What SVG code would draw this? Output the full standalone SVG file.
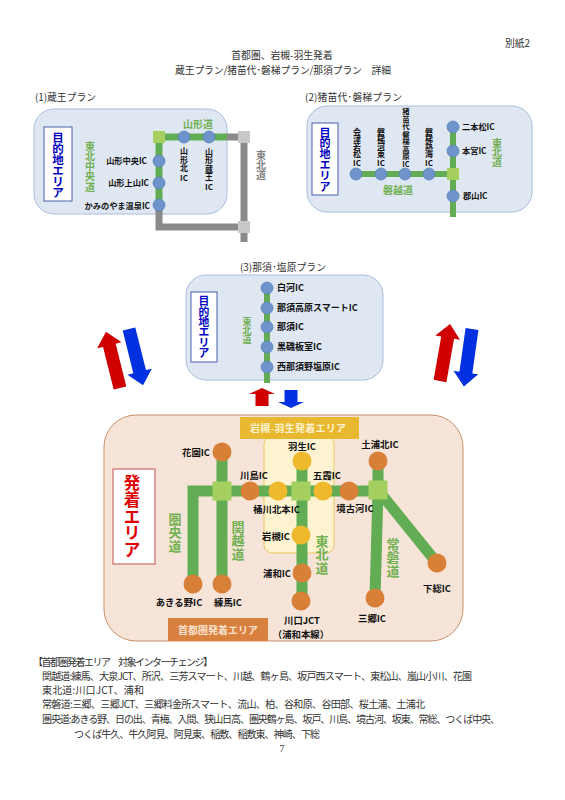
<svg xmlns="http://www.w3.org/2000/svg" width="565" height="800" viewBox="0 0 565 800">
<style>
text{font-family:"Noto Sans CJK JP","Liberation Sans",sans-serif;fill:#222}
.t{font-size:9.8px;fill:#333}
.f{font-size:10px;fill:#333}
.ic{font-size:8.2px;font-weight:700;fill:#111}
.ic3{font-size:9px;font-weight:700;fill:#111}
.ic4{font-size:9.4px;font-weight:700;fill:#111}
.m{text-anchor:middle}
.e{text-anchor:end}
.vs{font-size:8px;font-weight:700;fill:#111;text-anchor:middle}
.g{font-weight:700;fill:#70b050;text-anchor:middle}
.b{font-weight:700;fill:#0000c0;text-anchor:middle}
.panel{fill:#dfe7f3;stroke:#a9bfdc;stroke-width:1}
.box{fill:#fff;stroke:#4a5fb0;stroke-width:1}
.gl{stroke:#62ad53;fill:none}
.gr{stroke:#8a8a8a;fill:none}
.bc{fill:#6f94cc;stroke:#5b83b5;stroke-width:.8}
.oc{fill:#d98038}
.yc{fill:#efb92e}
.sq{fill:#a5cf5f}
.gs{fill:#c8c8c8}
.red{fill:#d00000}
.blue{fill:#0030e0}
</style>
<defs>
<polygon id="big" points="-6.5,0 6.5,0 6.5,-44 12.5,-44 0,-58 -12.5,-44 -6.5,-44"/>
</defs>
<rect width="565" height="800" fill="#fff"/>

<g id="header">
<text class="t" x="505" y="47">別紙2</text>
<text class="t m" x="282" y="59">首都圏、岩槻-羽生発着</text>
<text class="t" x="175" y="74" textLength="216">蔵王プラン/猪苗代･磐梯プラン/那須プラン　詳細</text>
<text class="t" x="35" y="101" textLength="61">(1)蔵王プラン</text>
<text class="t" x="305" y="101" textLength="97">(2)猪苗代･磐梯プラン</text>
<text class="t" x="240" y="271" textLength="86">(3)那須･塩原プラン</text>
</g>

<g id="panels">
<rect id="panel-1" class="panel" x="34" y="109" width="193" height="105" rx="20"/>
<rect id="panel-2" class="panel" x="307" y="106" width="225" height="106" rx="20"/>
<rect id="panel-3" class="panel" x="186" y="275" width="197" height="105" rx="20"/>
<rect id="panel-4" x="104" y="415" width="359" height="226" rx="32" fill="#f6e4d8" stroke="#c9916a" stroke-width="1"/>
<rect id="area-yellow" x="264" y="436" width="70" height="117" rx="8" fill="#fdf3d0" stroke="#edc860" stroke-width="1"/>
</g>

<g id="connectors">
<path class="gr" stroke-width="7" d="M159 205V227H244M227 137H244M244 137V242"/>
<path class="gl" stroke-width="7" d="M159 205V137H227"/>
<path class="gl" stroke-width="6" d="M356 174H453M453 127V217"/>
<path class="gl" stroke-width="6" d="M267 288V383"/>
<path class="gl" stroke-width="11" d="M193 584V491H378M222 452V584M302 461V601M378 461V490L375 598M378 490L437 563"/>
</g>

<g id="arrows">
<use href="#big" class="red" transform="translate(120 388) rotate(-14)"/>
<use href="#big" class="blue" transform="translate(129 329) rotate(166)"/>
<use href="#big" class="red" transform="translate(440 381) rotate(10)"/>
<use href="#big" class="blue" transform="translate(472 329) rotate(188)"/>
<polygon class="red" points="262,388 275,394 268.500,394 268.500,406 255.500,406 255.500,394 249,394"/>
<polygon class="blue" points="284.500,390 297.500,390 297.500,402 304,402 291,408 278,402 284.500,402"/>
</g>

<g id="junctions">
<rect class="sq" x="153" y="131" width="12" height="12"/>
<rect class="gs" x="238" y="131" width="12" height="12"/>
<rect class="gs" x="238" y="221" width="12" height="12"/>
<rect class="sq" x="447" y="168" width="12" height="12"/>
<rect class="sq" x="212.500" y="481.500" width="19" height="19"/>
<rect class="sq" x="291.500" y="481.500" width="19" height="19"/>
<rect class="sq" x="368.500" y="480.500" width="19" height="19"/>
</g>

<g id="labels-area-1">
<rect class="box" x="44" y="127" width="28" height="74"/>
<text class="b" style="font-size:11.500px"><tspan x="58" y="142">目</tspan><tspan x="58" y="153">的</tspan><tspan x="58" y="164">地</tspan><tspan x="58" y="175">エ</tspan><tspan x="58" y="186">リ</tspan><tspan x="58" y="197">ア</tspan></text>
<text class="g" style="font-size:10px"><tspan x="90" y="150">東</tspan><tspan x="90" y="160">北</tspan><tspan x="90" y="170">中</tspan><tspan x="90" y="180">央</tspan><tspan x="90" y="190.500">道</tspan></text>
<text class="g" x="198" y="128" style="font-size:10px">山形道</text>
<text class="m" style="font-size:10px;font-weight:700;fill:#808080"><tspan x="261" y="159">東</tspan><tspan x="261" y="169">北</tspan><tspan x="261" y="179">道</tspan></text>
</g>
<g id="ic-yamagata-kita"><circle class="bc" cx="184" cy="137" r="6"/><text class="vs"><tspan x="184" y="154">山</tspan><tspan x="184" y="162.500">形</tspan><tspan x="184" y="171">北</tspan><tspan x="184" y="181">IC</tspan></text></g>
<g id="ic-yamagata-zao"><circle class="bc" cx="209" cy="137" r="6"/><text class="vs"><tspan x="209" y="155">山</tspan><tspan x="209" y="163">形</tspan><tspan x="209" y="171.500">蔵</tspan><tspan x="209" y="180">王</tspan><tspan x="209" y="190">IC</tspan></text></g>
<g id="ic-yamagata-chuo"><circle class="bc" cx="159" cy="161" r="6"/><text class="ic e" x="147" y="164">山形中央IC</text></g>
<g id="ic-kaminoyama"><circle class="bc" cx="159" cy="183" r="6"/><text class="ic e" x="149" y="186">山形上山IC</text></g>
<g id="ic-onsen"><circle class="bc" cx="159" cy="205" r="6"/><text class="ic e" x="150" y="209">かみのやま温泉IC</text></g>

<g id="labels-area-2">
<rect class="box" x="312" y="123" width="26" height="72"/>
<text class="b" style="font-size:11px"><tspan x="325" y="136.500">目</tspan><tspan x="325" y="147">的</tspan><tspan x="325" y="158">地</tspan><tspan x="325" y="169">エ</tspan><tspan x="325" y="179.500">リ</tspan><tspan x="325" y="190.500">ア</tspan></text>
<text class="g" style="font-size:10px"><tspan x="497" y="146.500">東</tspan><tspan x="497" y="156">北</tspan><tspan x="497" y="166">道</tspan></text>
<text class="g" x="398" y="193.500" style="font-size:10px">磐越道</text>
</g>
<g id="ic-aizu"><circle class="bc" cx="356" cy="174" r="6"/><text class="vs"><tspan x="357" y="134.500">会</tspan><tspan x="357" y="142">津</tspan><tspan x="357" y="149.500">若</tspan><tspan x="357" y="157">松</tspan><tspan x="357" y="166">IC</tspan></text></g>
<g id="ic-kawahigashi"><circle class="bc" cx="381" cy="174" r="6"/><text class="vs"><tspan x="381" y="134.500">磐</tspan><tspan x="381" y="142">梯</tspan><tspan x="381" y="149.500">河</tspan><tspan x="381" y="157">東</tspan><tspan x="381" y="166">IC</tspan></text></g>
<g id="ic-bandai"><circle class="bc" cx="405" cy="174" r="6"/><text class="vs" style="font-size:7.400px"><tspan x="406" y="114.400">猪</tspan><tspan x="406" y="121.800">苗</tspan><tspan x="406" y="129.300">代</tspan><tspan x="406" y="136.700">磐</tspan><tspan x="406" y="144.100">梯</tspan><tspan x="406" y="151.600">高</tspan><tspan x="406" y="159">原</tspan><tspan x="406" y="167">IC</tspan></text></g>
<g id="ic-atami"><circle class="bc" cx="429" cy="174" r="6"/><text class="vs"><tspan x="429" y="134.500">磐</tspan><tspan x="429" y="142">梯</tspan><tspan x="429" y="149.500">熱</tspan><tspan x="429" y="157">海</tspan><tspan x="429" y="166">IC</tspan></text></g>
<g id="ic-nihonmatsu"><circle class="bc" cx="453" cy="127" r="6"/><text class="ic" x="462" y="130">二本松IC</text></g>
<g id="ic-motomiya"><circle class="bc" cx="453" cy="151" r="6"/><text class="ic" x="462" y="154">本宮IC</text></g>
<g id="ic-koriyama"><circle class="bc" cx="453" cy="196" r="6"/><text class="ic" x="463" y="199">郡山IC</text></g>

<g id="labels-area-3">
<rect class="box" x="191" y="292" width="26" height="70"/>
<text class="b" style="font-size:10.800px"><tspan x="204" y="305">目</tspan><tspan x="204" y="315.500">的</tspan><tspan x="204" y="326">地</tspan><tspan x="204" y="336">エ</tspan><tspan x="204" y="346.500">リ</tspan><tspan x="204" y="357">ア</tspan></text>
<text class="g" style="font-size:9px"><tspan x="247" y="324.800">東</tspan><tspan x="247" y="333.800">北</tspan><tspan x="247" y="342.800">道</tspan></text>
</g>
<g id="ic-shirakawa"><circle class="bc" cx="267" cy="288" r="6"/><text class="ic3" x="277" y="291">白河IC</text></g>
<g id="ic-nasukogen"><circle class="bc" cx="267" cy="308" r="6"/><text class="ic3" x="277" y="311">那須高原スマートIC</text></g>
<g id="ic-nasu"><circle class="bc" cx="267" cy="327" r="6"/><text class="ic3" x="277" y="330">那須IC</text></g>
<g id="ic-kuroiso"><circle class="bc" cx="267" cy="347" r="6"/><text class="ic3" x="277" y="350">黒磯板室IC</text></g>
<g id="ic-nishinasuno"><circle class="bc" cx="267" cy="367" r="6"/><text class="ic3" x="277" y="370">西那須野塩原IC</text></g>

<g id="labels-area-4">
<rect x="113" y="469" width="42" height="95" fill="#fff" stroke="#c0504d" stroke-width="1"/>
<text class="m" style="font-size:16.500px;font-weight:700;fill:#e00000"><tspan x="132" y="489.300">発</tspan><tspan x="132" y="506">着</tspan><tspan x="132" y="522.500">エ</tspan><tspan x="132" y="539">リ</tspan><tspan x="132" y="555.700">ア</tspan></text>
<rect x="240" y="417" width="119" height="22" fill="#e8b830"/>
<text class="m" x="298" y="432" textLength="96" style="font-size:10px;font-weight:700;fill:#fdf3d0">岩槻-羽生発着エリア</text>
<rect x="168" y="618" width="100" height="23" fill="#d9813f"/>
<text class="m" x="218" y="634" textLength="80" style="font-size:10px;font-weight:700;fill:#f9e3d0">首都圏発着エリア</text>
<text class="g" style="font-size:13px"><tspan x="175" y="523.600">圏</tspan><tspan x="175" y="537.300">央</tspan><tspan x="175" y="551">道</tspan></text>
<text class="g" style="font-size:13px"><tspan x="238" y="531.600">関</tspan><tspan x="238" y="545.300">越</tspan><tspan x="238" y="559">道</tspan></text>
<text class="g" style="font-size:13px"><tspan x="322" y="545.600">東</tspan><tspan x="322" y="559.300">北</tspan><tspan x="322" y="573">道</tspan></text>
<text class="g" style="font-size:13px"><tspan x="393" y="548.600">常</tspan><tspan x="393" y="562.300">磐</tspan><tspan x="393" y="576">道</tspan></text>
</g>
<g id="ic-hanazono"><circle class="oc" cx="222" cy="452" r="9.500"/><text class="ic4 e" x="210" y="455.500">花園IC</text></g>
<g id="ic-akiruno"><circle class="oc" cx="193" cy="584" r="9.500"/><text class="ic4 m" x="179" y="605.500">あきる野IC</text></g>
<g id="ic-nerima"><circle class="oc" cx="222" cy="584" r="9.500"/><text class="ic4 m" x="228" y="605.500">練馬IC</text></g>
<g id="ic-kawajima"><circle class="oc" cx="250" cy="491" r="9.500"/><text class="ic4 m" x="254" y="478.500">川島IC</text></g>
<g id="ic-okegawa"><circle class="yc" cx="278" cy="491" r="9.500"/><text class="ic4 m" x="276.500" y="512.500">桶川北本IC</text></g>
<g id="ic-hanyu"><circle class="yc" cx="302" cy="461" r="9.500"/><text class="ic4 m" x="302" y="449.500">羽生IC</text></g>
<g id="ic-goka"><circle class="yc" cx="323" cy="491" r="9.500"/><text class="ic4 m" x="327" y="478.500">五霞IC</text></g>
<g id="ic-sakaikoga"><circle class="oc" cx="349" cy="491" r="9.500"/><text class="ic4 m" x="355" y="511.500">境古河IC</text></g>
<g id="ic-tsuchiura"><circle class="oc" cx="378" cy="461" r="9.500"/><text class="ic4 m" x="380" y="447.500">土浦北IC</text></g>
<g id="ic-iwatsuki"><circle class="yc" cx="301" cy="535" r="9.500"/><text class="ic4 e" x="290" y="539.500">岩槻IC</text></g>
<g id="ic-urawa"><circle class="oc" cx="302" cy="573" r="9.500"/><text class="ic4 e" x="291" y="576.500">浦和IC</text></g>
<g id="ic-kawaguchi"><circle class="oc" cx="301" cy="601" r="9.500"/><text class="ic4 m" x="302" y="623.500">川口JCT</text><text class="ic4 m" x="301" y="637.500">（浦和本線）</text></g>
<g id="ic-misato"><circle class="oc" cx="375" cy="598" r="9.500"/><text class="ic4 m" x="372" y="621.500">三郷IC</text></g>
<g id="ic-shimofusa"><circle class="oc" cx="437" cy="563" r="9.500"/><text class="ic4 m" x="437" y="591.500">下総IC</text></g>

<g id="footer">
<text class="f" x="33" y="666" textLength="180">【首都圏発着エリア　対象インターチェンジ】</text>
<text class="f" x="42" y="680" textLength="430">関越道:練馬、大泉JCT、所沢、三芳スマート、川越、鶴ヶ島、坂戸西スマート、東松山、嵐山小川、花園</text>
<text class="f" x="42" y="694" textLength="102">東北道:川口JCT、浦和</text>
<text class="f" x="42" y="708" textLength="383">常磐道:三郷、三郷JCT、三郷料金所スマート、流山、柏、谷和原、谷田部、桜土浦、土浦北</text>
<text class="f" x="42" y="723" textLength="458">圏央道:あきる野、日の出、青梅、入間、狭山日高、圏央鶴ヶ島、坂戸、川島、境古河、坂東、常総、つくば中央、</text>
<text class="f" x="74" y="738" textLength="246">つくば牛久、牛久阿見、阿見東、稲敷、稲敷東、神崎、下総</text>
<text class="f m" x="282" y="752" style="font-family:'Liberation Serif',serif">7</text>
</g>
</svg>
